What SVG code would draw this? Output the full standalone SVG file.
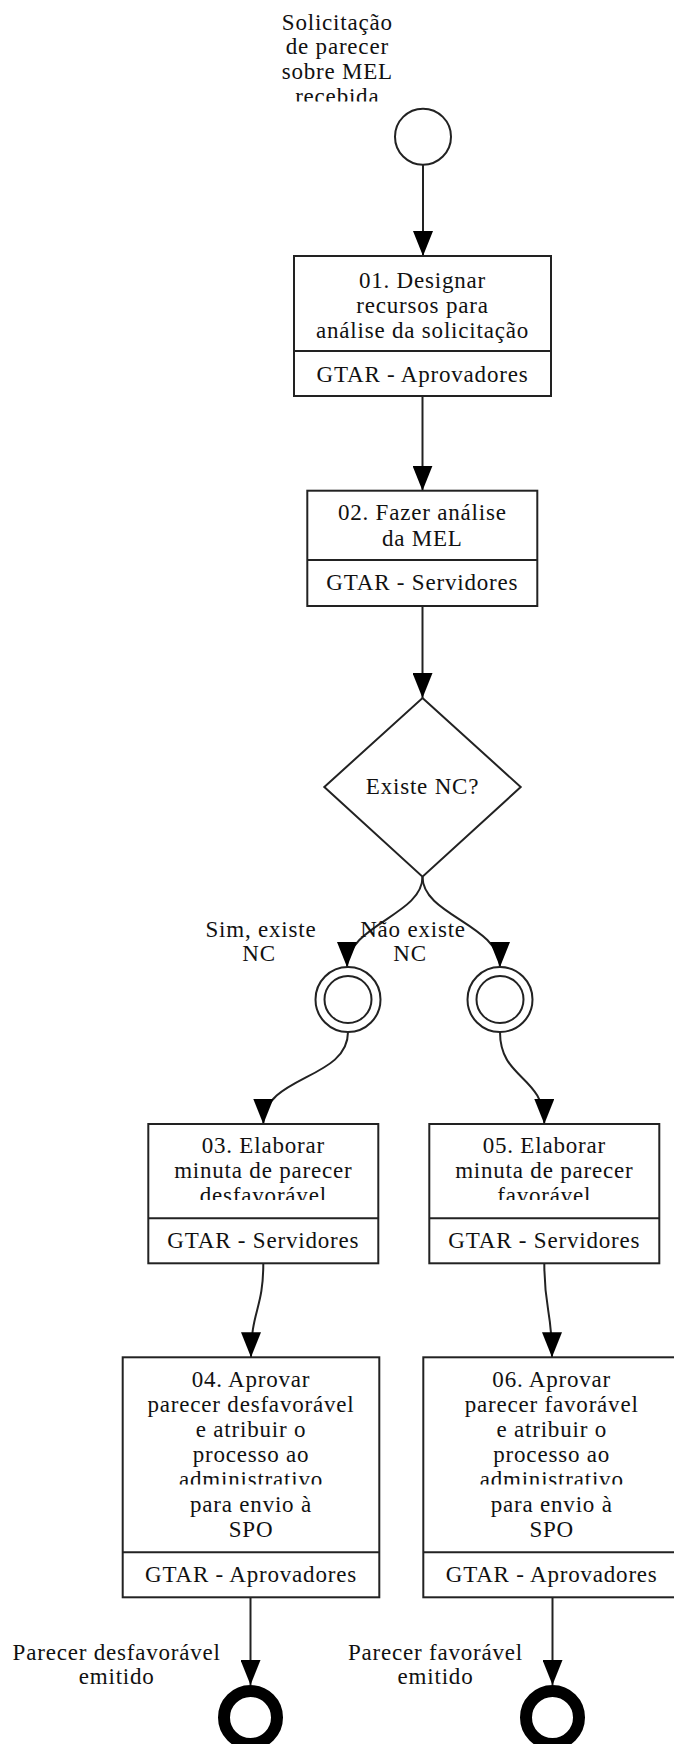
<svg xmlns="http://www.w3.org/2000/svg" width="674" height="1744" viewBox="0 0 674 1744">
<style>
  .t { font-family: "Liberation Serif", "Times New Roman", serif; font-size: 23px; letter-spacing: 0.8px; fill: #111; text-anchor: middle; }
  .box { fill: #fff; stroke: #222; stroke-width: 2; }
  .div { stroke: #222; stroke-width: 2; }
  .ev { fill: #fff; stroke: #222; stroke-width: 2; }
  .end { fill: #fff; stroke: #000; stroke-width: 12; }
  .con { fill: none; stroke: #222; stroke-width: 2; marker-end: url(#arr); }
</style>
<defs>
  <marker id="arr" markerUnits="userSpaceOnUse" markerWidth="25" markerHeight="20" viewBox="0 0 25 20" refX="25" refY="10" orient="auto">
    <path d="M0,0 L25,10 L0,20 z" fill="#000"/>
  </marker>
  <clipPath id="c1" clipPathUnits="userSpaceOnUse"><rect x="0" y="0" width="674" height="101.5"/></clipPath>
  <clipPath id="c2" clipPathUnits="userSpaceOnUse"><rect x="0" y="1100" width="674" height="100"/></clipPath>
  <clipPath id="c3" clipPathUnits="userSpaceOnUse"><rect x="0" y="1470" width="674" height="14.5"/></clipPath>
</defs>

<g id="connectors">
  <path class="con" d="M423,165 L423,256"/>
  <path class="con" d="M422.5,396 L422.5,490.7"/>
  <path class="con" d="M422.5,606 L422.5,698"/>
  <path class="con" d="M422.5,877 C422.5,915 347,925 347,967"/>
  <path class="con" d="M422.5,877 C422.5,915 500,925 500,967"/>
  <path class="con" d="M348,1032 C348,1080 263.3,1075 263.3,1124"/>
  <path class="con" d="M500,1032 C500,1080 544.3,1075 544.3,1124"/>
  <path class="con" d="M263.3,1263.3 C263.3,1310 251,1310 251,1357.3"/>
  <path class="con" d="M544.3,1263.3 C544.3,1310 552,1310 552,1357.3"/>
  <path class="con" d="M250.5,1597.3 L250.5,1685"/>
  <path class="con" d="M552.5,1597.3 L552.5,1685"/>
</g>

<g id="start">
  <circle class="ev" cx="423" cy="136.7" r="28"/>
  <text class="t" x="337.3" y="29.5">Solicitação</text>
  <text class="t" x="337.3" y="54">de parecer</text>
  <text class="t" x="337.3" y="79">sobre MEL</text>
  <text class="t" x="337.3" y="103.5" clip-path="url(#c1)">recebida</text>
</g>

<g id="task01">
  <rect class="box" x="294" y="256" width="257" height="140"/>
  <line class="div" x1="294" y1="351" x2="551" y2="351"/>
  <text class="t" x="422.5" y="288">01. Designar</text>
  <text class="t" x="422.5" y="313">recursos para</text>
  <text class="t" x="422.5" y="338">análise da solicitação</text>
  <text class="t" x="422.5" y="381.7">GTAR - Aprovadores</text>
</g>

<g id="task02">
  <rect class="box" x="307.3" y="490.7" width="230" height="115.3"/>
  <line class="div" x1="307.3" y1="560" x2="537.3" y2="560"/>
  <text class="t" x="422.3" y="520">02. Fazer análise</text>
  <text class="t" x="422.3" y="545.5">da MEL</text>
  <text class="t" x="422.3" y="590">GTAR - Servidores</text>
</g>

<g id="gateway">
  <polygon class="ev" points="422.5,698 520.7,787 422.5,876.7 324.3,787"/>
  <text class="t" x="422.5" y="794">Existe NC?</text>
</g>

<g id="labels">
  <text class="t" x="261" y="936.7">Sim, existe</text>
  <text class="t" x="259" y="961">NC</text>
  <text class="t" x="413" y="936.7">Não existe</text>
  <text class="t" x="410" y="961">NC</text>
</g>

<g id="inter1">
  <circle class="ev" cx="348" cy="999.5" r="32.5"/>
  <circle class="ev" cx="348" cy="999.5" r="23.5"/>
</g>
<g id="inter2">
  <circle class="ev" cx="500" cy="999.5" r="32.5"/>
  <circle class="ev" cx="500" cy="999.5" r="23.5"/>
</g>

<g id="task03">
  <rect class="box" x="148.3" y="1124" width="230" height="139.3"/>
  <line class="div" x1="148.3" y1="1218.3" x2="378.3" y2="1218.3"/>
  <text class="t" x="263.3" y="1153.3">03. Elaborar</text>
  <text class="t" x="263.3" y="1178.3">minuta de parecer</text>
  <text class="t" x="263.3" y="1203.3" clip-path="url(#c2)">desfavorável</text>
  <text class="t" x="263.3" y="1248.3">GTAR - Servidores</text>
</g>

<g id="task05">
  <rect class="box" x="429.3" y="1124" width="230" height="139.3"/>
  <line class="div" x1="429.3" y1="1218.3" x2="659.3" y2="1218.3"/>
  <text class="t" x="544.3" y="1153.3">05. Elaborar</text>
  <text class="t" x="544.3" y="1178.3">minuta de parecer</text>
  <text class="t" x="544.3" y="1203.3" clip-path="url(#c2)">favorável</text>
  <text class="t" x="544.3" y="1248.3">GTAR - Servidores</text>
</g>

<g id="task04">
  <rect class="box" x="122.7" y="1357.3" width="256.6" height="240"/>
  <line class="div" x1="122.7" y1="1552.3" x2="379.3" y2="1552.3"/>
  <text class="t" x="251" y="1387.3">04. Aprovar</text>
  <text class="t" x="251" y="1412.3">parecer desfavorável</text>
  <text class="t" x="251" y="1437.3">e atribuir o</text>
  <text class="t" x="251" y="1462.3">processo ao</text>
  <text class="t" x="251" y="1487.3" clip-path="url(#c3)">administrativo</text>
  <text class="t" x="251" y="1512.3">para envio à</text>
  <text class="t" x="251" y="1537.3">SPO</text>
  <text class="t" x="251" y="1581.7">GTAR - Aprovadores</text>
</g>

<g id="task06">
  <rect class="box" x="423.3" y="1357.3" width="256.6" height="240"/>
  <line class="div" x1="423.3" y1="1552.3" x2="680" y2="1552.3"/>
  <text class="t" x="551.7" y="1387.3">06. Aprovar</text>
  <text class="t" x="551.7" y="1412.3">parecer favorável</text>
  <text class="t" x="551.7" y="1437.3">e atribuir o</text>
  <text class="t" x="551.7" y="1462.3">processo ao</text>
  <text class="t" x="551.7" y="1487.3" clip-path="url(#c3)">administrativo</text>
  <text class="t" x="551.7" y="1512.3">para envio à</text>
  <text class="t" x="551.7" y="1537.3">SPO</text>
  <text class="t" x="551.7" y="1581.7">GTAR - Aprovadores</text>
</g>

<g id="end1">
  <circle class="end" cx="250.5" cy="1717.5" r="26.5"/>
  <text class="t" x="116.7" y="1660">Parecer desfavorável</text>
  <text class="t" x="116.7" y="1684">emitido</text>
</g>

<g id="end2">
  <circle class="end" cx="552.5" cy="1717.5" r="26.5"/>
  <text class="t" x="435.5" y="1660">Parecer favorável</text>
  <text class="t" x="435.5" y="1684">emitido</text>
</g>
</svg>
